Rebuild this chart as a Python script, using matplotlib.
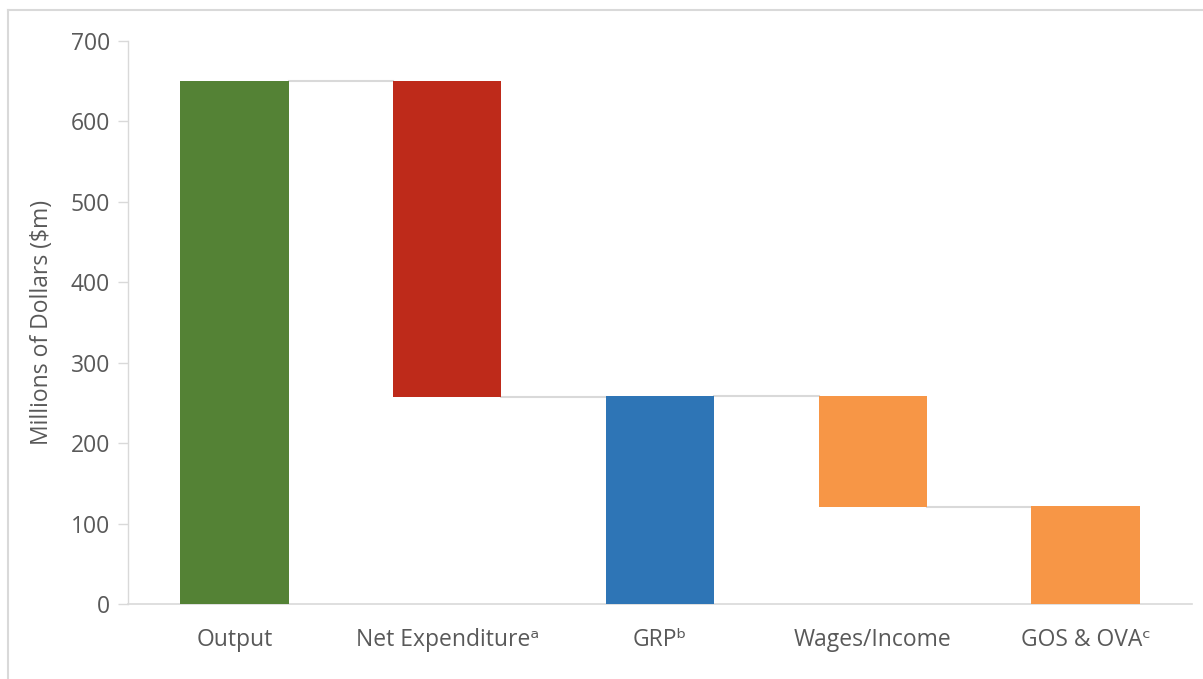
import matplotlib
matplotlib.use("Agg")
import matplotlib.pyplot as plt
from matplotlib.lines import Line2D

categories = ["Output", "Net Expenditure\u1d43", "GRP\u1d47", "Wages/Income", "GOS & OVA\u1d9c"]
bar_bottoms = [0, 257, 0, 121, 0]
bar_tops = [650, 650, 258, 258, 122]
bar_colors = ["#548235", "#BE2A1A", "#2E75B6", "#F79646", "#F79646"]
yticks = [0, 100, 200, 300, 400, 500, 600, 700]

plt.rcParams['font.family'] = ['Open Sans', 'DejaVu Sans']
text_color = "#595959"
grid_color = "#D9D9D9"
fs = 16.5

fig = plt.figure(figsize=(12.03, 6.79), dpi=100)
ax = fig.add_axes([128/1203, 1 - 604/679, (1192-128)/1203, (604-41)/679])

width = 0.51
x = list(range(len(categories)))
heights = [t - b for t, b in zip(bar_tops, bar_bottoms)]
ax.bar(x, heights, bottom=bar_bottoms, width=width, color=bar_colors, zorder=3)

# connectors: level linking each bar to the next
levels = [bar_tops[0], bar_bottoms[1], bar_tops[2], bar_bottoms[3]]
for i, lvl in enumerate(levels):
    ax.plot([x[i] + width/2, x[i+1] - width/2], [lvl, lvl], color=grid_color, lw=1.5, zorder=2)

ax.set_xlim(-0.5, len(categories) - 0.5)
ax.set_ylim(0, 700)
ax.set_yticks(yticks)
ax.set_xticks(x)
ax.set_xticklabels(categories)
ax.tick_params(axis='y', colors=grid_color, labelcolor=text_color, labelsize=fs, length=7, width=1, pad=6)
ax.tick_params(axis='x', length=0, labelcolor=text_color, labelsize=fs, pad=17)
for s in ['top', 'right']:
    ax.spines[s].set_visible(False)
ax.spines['left'].set_color(grid_color)
ax.spines['bottom'].set_color(grid_color)
ax.spines['left'].set_linewidth(1)
ax.spines['bottom'].set_linewidth(1.2)
ax.set_ylabel("Millions of Dollars ($m)", color=text_color, fontsize=fs, labelpad=12)

# outer border (top and left)
fig.add_artist(Line2D([7.5/1203, 7.5/1203], [0, 1 - 9.5/679], transform=fig.transFigure, color="#D9D9D9", lw=1.5))
fig.add_artist(Line2D([7.5/1203, 1], [1 - 9.5/679, 1 - 9.5/679], transform=fig.transFigure, color="#D9D9D9", lw=1.5))

fig.savefig("out.png", dpi=100)
